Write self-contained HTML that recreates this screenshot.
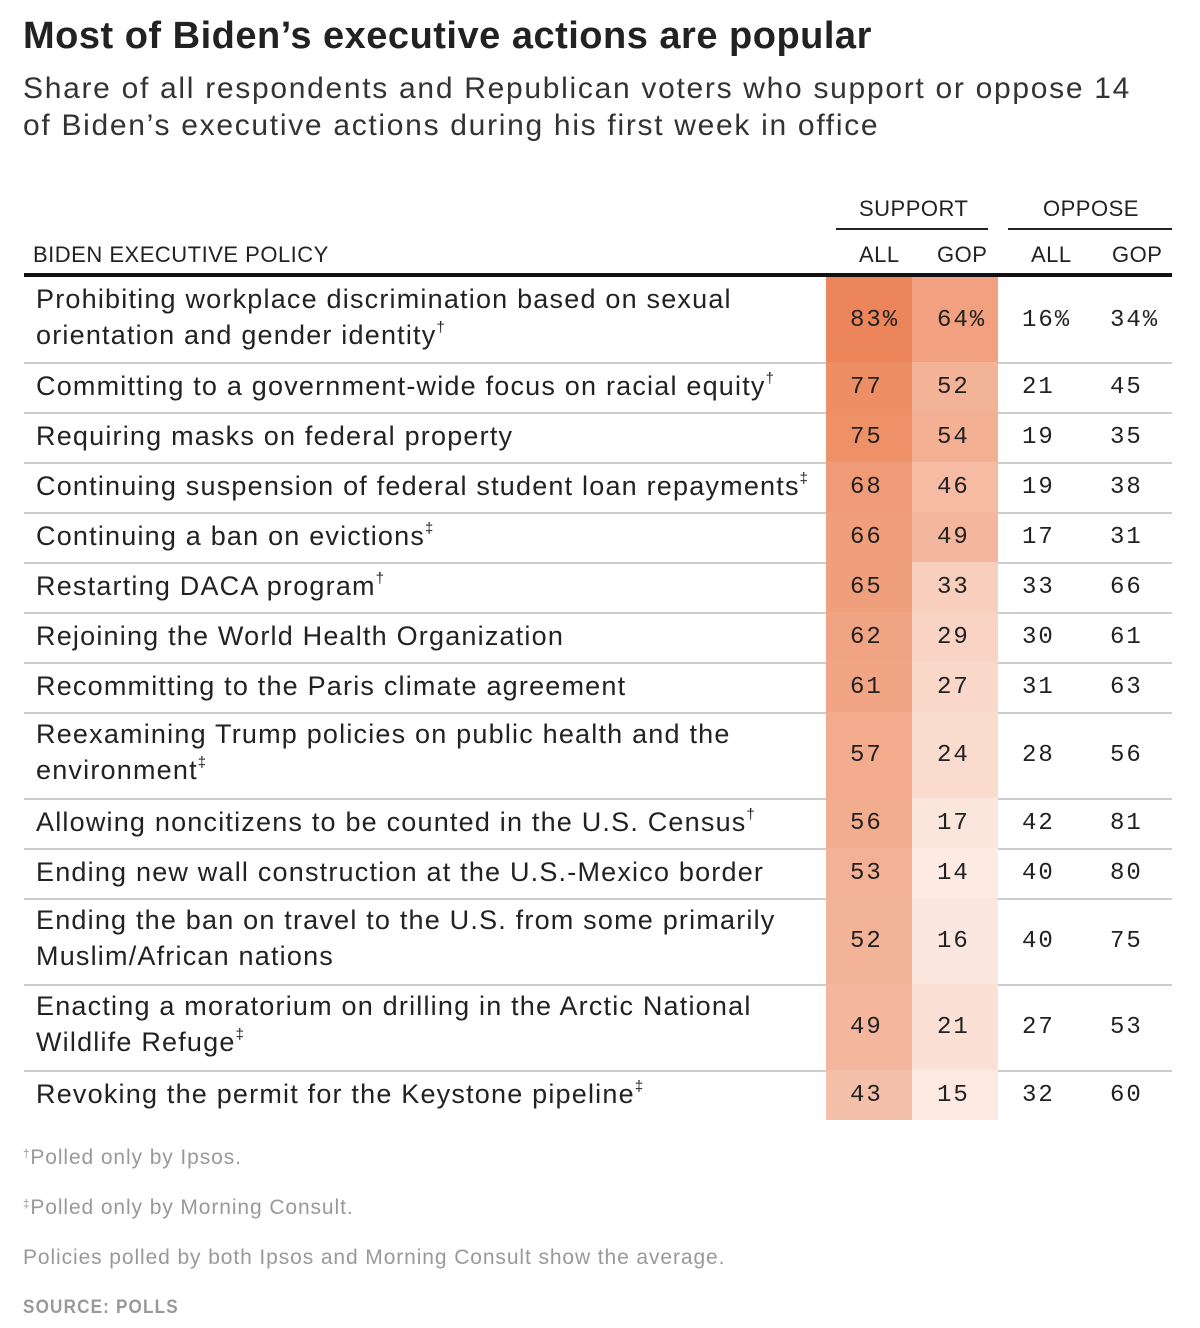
<!DOCTYPE html>
<html><head><meta charset="utf-8">
<style>
body{margin:0;width:1200px;height:1328px;background:#fff;font-family:"Liberation Sans",sans-serif;color:#222;position:relative;overflow:hidden}
.a{position:absolute;white-space:nowrap}
.t{font-size:38px;font-weight:bold;left:23px;top:15px;color:#222;letter-spacing:0.5px}
.s{font-size:30px;left:23px;line-height:37px;top:70px;color:#333;letter-spacing:1.7px}
.h{font-size:22px;color:#222;letter-spacing:0.5px}
.lbl{font-size:27px;line-height:36px;left:36px;color:#222;letter-spacing:1.2px}
.lbl sup,.f sup{font-size:0.55em;vertical-align:top;line-height:0;position:relative;top:0.75em}
.num{font-family:"Liberation Mono",monospace;font-size:24px;letter-spacing:2px;color:#222}
.f{font-size:21px;color:#999;left:23px;letter-spacing:0.9px}
</style></head><body>
<div class="a t">Most of Biden’s executive actions are popular</div>
<div class="a s">Share of all respondents and Republican voters who support or oppose 14<br>of Biden’s executive actions during his first week in office</div>
<div class="a h" style="left:859px;top:196px">SUPPORT</div>
<div class="a" style="left:836px;top:228px;width:152px;height:2px;background:#222"></div>
<div class="a h" style="left:1043px;top:196px">OPPOSE</div>
<div class="a" style="left:1008px;top:228px;width:164px;height:2px;background:#222"></div>
<div class="a h" style="left:33px;top:242px">BIDEN EXECUTIVE POLICY</div>
<div class="a h" style="left:859px;top:242px">ALL</div>
<div class="a h" style="left:937px;top:242px">GOP</div>
<div class="a h" style="left:1031px;top:242px">ALL</div>
<div class="a h" style="left:1112px;top:242px">GOP</div>
<div class="a" style="left:24px;top:273px;width:1148px;height:4px;background:#111"></div>
<div id="rows"></div>
<div class="a f" style="top:1146px"><sup>†</sup>Polled only by Ipsos.</div>
<div class="a f" style="top:1196px"><sup>‡</sup>Polled only by Morning Consult.</div>
<div class="a f" style="top:1246px">Policies polled by both Ipsos and Morning Consult show the average.</div>
<div class="a f" style="top:1297px;font-size:19px;letter-spacing:1.3px;font-weight:bold;transform:scaleX(0.9);transform-origin:left">SOURCE: POLLS</div>
<script>
const policies=["Prohibiting workplace discrimination based on sexual<br>orientation and gender identity<sup>†</sup>","Committing to a government-wide focus on racial equity<sup>†</sup>","Requiring masks on federal property","Continuing suspension of federal student loan repayments<sup>‡</sup>","Continuing a ban on evictions<sup>‡</sup>","Restarting DACA program<sup>†</sup>","Rejoining the World Health Organization","Recommitting to the Paris climate agreement","Reexamining Trump policies on public health and the<br>environment<sup>‡</sup>","Allowing noncitizens to be counted in the U.S. Census<sup>†</sup>","Ending new wall construction at the U.S.-Mexico border","Ending the ban on travel to the U.S. from some primarily<br>Muslim/African nations","Enacting a moratorium on drilling in the Arctic National<br>Wildlife Refuge<sup>‡</sup>","Revoking the permit for the Keystone pipeline<sup>‡</sup>"];
const supportAll=[83,77,75,68,66,65,62,61,57,56,53,52,49,43];
const supportGop=[64,52,54,46,49,33,29,27,24,17,14,16,21,15];
const opposeAll=[16,21,19,19,17,33,30,31,28,42,40,40,27,32];
const opposeGop=[34,45,35,38,31,66,61,63,56,81,80,75,53,60];
const root=document.getElementById('rows');
function color(v){const t=Math.min(1,v/85);return `rgb(${Math.round(255-t*19)},${Math.round(255-t*125)},${Math.round(255-t*170)})`;}
function mk(cls,style,html){const d=document.createElement('div');d.className='a '+cls;d.style.cssText=style;if(html!=null)d.innerHTML=html;root.appendChild(d);return d;}
let y=277;
policies.forEach((p,i)=>{
  const two=p.includes('<br>');const h=i===0?85:(two?86:50);
  const pc=i===0?'%':'';
  let c=mk('',`left:826px;top:${y}px;width:86px;height:${h}px;background:${color(supportAll[i])}`);
  
  
  c=mk('',`left:912px;top:${y}px;width:86px;height:${h}px;background:${color(supportGop[i])}`);
  
  
  const l=mk('lbl',`top:${y+(two?4:6)}px`,p);
  
  
  const ny=y+h/2-13;
  [[supportAll,850],[supportGop,937],[opposeAll,1022],[opposeGop,1110]].forEach((a,j)=>{
    const n=mk('num',`left:${a[1]}px;top:${ny}px`,a[0][i]+pc);
    
    
  });
  y+=h;
  if(i<policies.length-1){
    const r=mk('',`left:24px;top:${y}px;width:1148px;height:2px;background:#ccc`);
    
    
  }
});
</script>
</body></html>
